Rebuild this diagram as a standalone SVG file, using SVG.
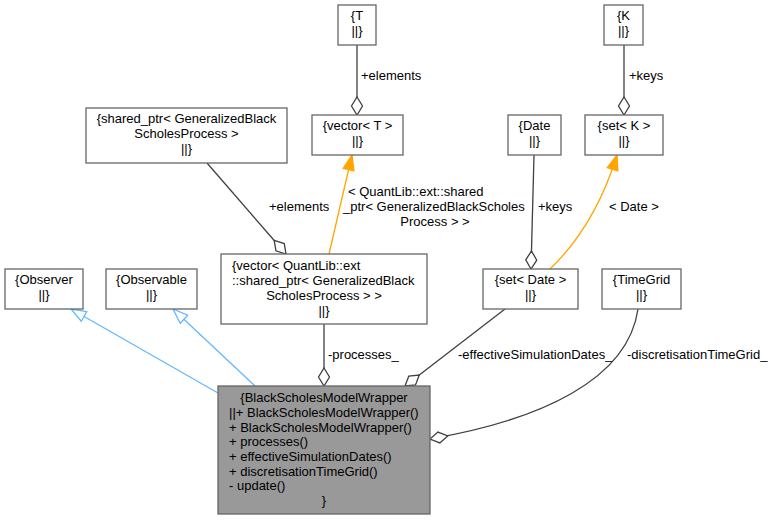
<svg xmlns="http://www.w3.org/2000/svg" width="775" height="520" viewBox="0 0 775 520">
<style>
text{font-family:"Liberation Sans",Arial,sans-serif;font-size:13px;fill:#000}
.n{fill:#fff;stroke:#666;stroke-width:1.3}
.main{fill:#999;stroke:#666;stroke-width:1.3}
.m{text-anchor:middle}
.e{fill:none;stroke:#404040;stroke-width:1.3}
.t{fill:none;stroke:orange;stroke-width:1.3}
.i{fill:none;stroke:#63b8ff;stroke-width:1.3}
</style>
<defs>
<marker id="dia" markerUnits="userSpaceOnUse" markerWidth="20" markerHeight="14" refX="18" refY="6" orient="auto" overflow="visible">
<path d="M0,6 L9,0.5 L18,6 L9,11.5 Z" fill="#fff" stroke="#404040" stroke-width="1.3"/>
</marker>
<marker id="tri" markerUnits="userSpaceOnUse" markerWidth="16" markerHeight="12" refX="15" refY="6" orient="auto" overflow="visible">
<path d="M0,0.5 L15,6 L0,11.5 Z" fill="orange" stroke="orange" stroke-width="1.3"/>
</marker>
<marker id="inh" markerUnits="userSpaceOnUse" markerWidth="16" markerHeight="12" refX="15" refY="6" orient="auto" overflow="visible">
<path d="M0,0.5 L15,6 L0,11.5 Z" fill="#fff" stroke="#63b8ff" stroke-width="1.3"/>
</marker>
</defs>
<g id="connectors">
<path class="e" d="M357,45 L357,115" marker-end="url(#dia)"/>
<text x="361" y="80">+elements</text>
<path class="e" d="M624,45 L624,115" marker-end="url(#dia)"/>
<text x="629" y="80">+keys</text>
<path class="e" d="M207,163 L286,254" marker-end="url(#dia)"/>
<text x="269" y="211">+elements</text>
<path class="t" d="M329,254 L352,155" marker-end="url(#tri)"/>
<text x="348" y="196">&lt; QuantLib::ext::shared</text>
<text x="343" y="211">_ptr&lt; GeneralizedBlackScholes</text>
<text x="435" y="226" class="m">Process &gt; &gt;</text>
<path class="e" d="M534,155 L531,269" marker-end="url(#dia)"/>
<text x="538" y="211">+keys</text>
<path class="t" d="M550,269 C575,245 600,210 617,155" marker-end="url(#tri)"/>
<text x="609" y="211">&lt; Date &gt;</text>
<path class="i" d="M218,393 L71,309" marker-end="url(#inh)"/>
<path class="i" d="M255,386 L173,309" marker-end="url(#inh)"/>
<path class="e" d="M324,324 L324,386" marker-end="url(#dia)"/>
<text x="328" y="359">-processes_</text>
<path class="e" d="M505,309 L405,386" marker-end="url(#dia)"/>
<text x="458" y="359">-effectiveSimulationDates_</text>
<path class="e" d="M638,309 C628,380 540,420 430,439" marker-end="url(#dia)"/>
<text x="627" y="359">-discretisationTimeGrid_</text>
</g>
<g id="T">
<rect class="n" x="338" y="5" width="38" height="40"/>
<text x="357" y="20" class="m">{T</text>
<text x="357" y="35" class="m">||}</text>
</g>
<g id="K">
<rect class="n" x="604" y="5" width="39" height="40"/>
<text x="623.5" y="20" class="m">{K</text>
<text x="623.5" y="35" class="m">||}</text>
</g>
<g id="shared_ptr">
<rect class="n" x="86" y="108" width="201" height="55"/>
<text x="186.5" y="123" class="m">{shared_ptr&lt; GeneralizedBlack</text>
<text x="186.5" y="138" class="m">ScholesProcess &gt;</text>
<text x="186.5" y="153" class="m">||}</text>
</g>
<g id="vectorT">
<rect class="n" x="312" y="115" width="91" height="40"/>
<text x="357.5" y="130" class="m">{vector&lt; T &gt;</text>
<text x="357.5" y="145" class="m">||}</text>
</g>
<g id="Date">
<rect class="n" x="508" y="115" width="53" height="40"/>
<text x="534.5" y="130" class="m">{Date</text>
<text x="534.5" y="145" class="m">||}</text>
</g>
<g id="setK">
<rect class="n" x="585" y="115" width="78" height="40"/>
<text x="624" y="130" class="m">{set&lt; K &gt;</text>
<text x="624" y="145" class="m">||}</text>
</g>
<g id="Observer">
<rect class="n" x="5" y="269" width="78" height="40"/>
<text x="44" y="284" class="m">{Observer</text>
<text x="44" y="299" class="m">||}</text>
</g>
<g id="Observable">
<rect class="n" x="106" y="269" width="91" height="40"/>
<text x="151.5" y="284" class="m">{Observable</text>
<text x="151.5" y="299" class="m">||}</text>
</g>
<g id="vectorQL">
<rect class="n" x="221" y="254" width="206" height="70"/>
<text x="232" y="270">{vector&lt; QuantLib::ext</text>
<text x="232" y="285">::shared_ptr&lt; GeneralizedBlack</text>
<text x="324" y="300" class="m">ScholesProcess &gt; &gt;</text>
<text x="324" y="315" class="m">||}</text>
</g>
<g id="setDate">
<rect class="n" x="483" y="269" width="95" height="40"/>
<text x="530.5" y="284" class="m">{set&lt; Date &gt;</text>
<text x="530.5" y="299" class="m">||}</text>
</g>
<g id="TimeGrid">
<rect class="n" x="602" y="269" width="79" height="40"/>
<text x="641.5" y="284" class="m">{TimeGrid</text>
<text x="641.5" y="299" class="m">||}</text>
</g>
<g id="BlackScholesModelWrapper">
<rect class="main" x="218" y="386" width="212" height="128"/>
<text x="324" y="402" class="m">{BlackScholesModelWrapper</text>
<text x="229" y="417">||+ BlackScholesModelWrapper()</text>
<text x="229" y="432">+ BlackScholesModelWrapper()</text>
<text x="229" y="446">+ processes()</text>
<text x="229" y="461">+ effectiveSimulationDates()</text>
<text x="229" y="476">+ discretisationTimeGrid()</text>
<text x="229" y="490">- update()</text>
<text x="324" y="505" class="m">}</text>
</g>
</svg>
